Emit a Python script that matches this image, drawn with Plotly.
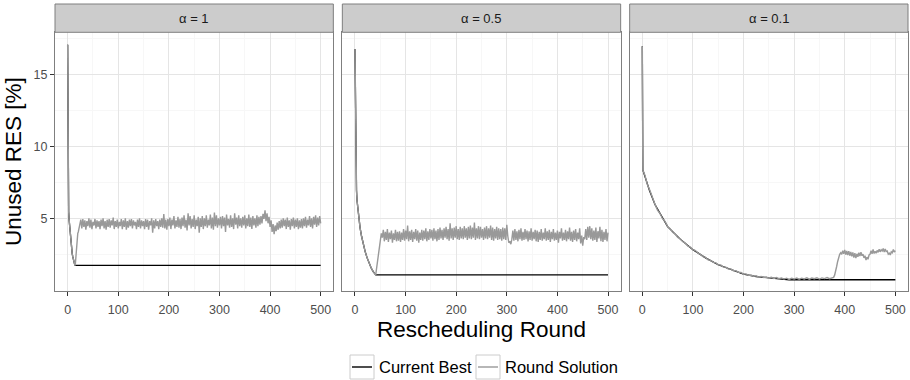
import plotly.graph_objects as go

# ---------------- data ----------------
PANEL_LABELS = ["α = 1", "α = 0.5", "α = 0.1"]
SERIES_NAMES = ["Current Best", "Round Solution"]
X_TICKS = [0, 100, 200, 300, 400, 500]
Y_TICKS = [5, 10, 15]
X_TITLE = "Rescheduling Round"
Y_TITLE = "Unused RES [%]"

# Panel 1 (alpha = 1)
P1_RS_HEAD_ROUNDS = list(range(0, 24))
P1_RS_HEAD = [17.1, 6.2, 5.5, 4.9, 4.4, 3.9, 3.5, 3.15, 2.85, 2.6, 2.4, 2.2,
              2.05, 1.92, 1.83, 1.78, 2.4, 3.0, 3.5, 3.8, 4.0, 4.1, 4.3, 4.45]
P1_RS_TAIL_START = 24  # every 2 rounds
P1_RS_TAIL = [
    4.60, 4.95, 4.35, 5.00, 4.45, 4.90, 4.25, 4.85, 4.50, 5.05, 4.40, 4.95, 4.30, 4.80, 4.55, 5.00, 4.35, 4.90, 4.45, 4.85,
    4.30, 4.95, 4.50, 5.05, 4.35, 4.85, 4.25, 4.95, 4.45, 5.00, 4.40, 4.90, 4.55, 5.10, 4.30, 4.85, 4.45, 4.95, 4.35, 4.80,
    4.50, 5.00, 4.30, 4.90, 4.45, 5.05, 4.25, 4.85, 4.40, 4.95, 4.50, 5.00, 4.35, 4.90, 4.55, 4.80, 4.30, 4.95, 4.45, 5.05,
    4.35, 4.90, 4.50, 4.85, 4.30, 5.00, 4.45, 4.95, 4.25, 4.85, 4.55, 5.05, 4.05, 4.90, 4.35, 5.00, 4.50, 4.85, 4.30, 4.95,
    4.45, 5.05, 4.40, 5.35, 4.35, 4.95, 4.25, 5.00, 4.50, 5.10, 4.30, 4.95, 4.55, 5.20, 4.35, 4.90, 4.45, 5.15, 4.40, 5.00,
    4.30, 5.10, 4.50, 5.25, 4.40, 4.95, 4.20, 5.40, 4.55, 5.20, 4.35, 5.00, 4.45, 5.25, 4.30, 4.95, 4.50, 5.15, 4.05, 5.05,
    4.45, 5.20, 4.30, 5.05, 4.50, 5.25, 4.40, 4.95, 4.55, 5.30, 4.35, 5.10, 4.25, 5.45, 4.50, 5.25, 4.40, 5.05, 4.55, 5.15,
    4.35, 5.20, 4.50, 5.10, 4.10, 5.30, 4.55, 5.00, 4.40, 5.25, 4.45, 5.05, 4.30, 5.40, 4.60, 5.10, 4.35, 5.25, 4.50, 5.05,
    4.40, 5.15, 4.55, 5.25, 4.35, 5.05, 4.50, 5.30, 4.45, 5.10, 4.30, 5.20, 4.55, 5.05, 4.40, 5.25, 4.50, 5.15, 4.60, 5.20,
    4.70, 5.35, 5.00, 5.60, 4.85, 5.40, 4.70, 5.15, 4.45, 4.90, 4.10, 4.65, 3.95, 4.55, 4.15, 4.75, 4.25, 4.85, 4.35, 4.95,
    4.40, 5.05, 4.50, 4.95, 4.30, 5.10, 4.45, 4.90, 4.25, 5.00, 4.50, 5.10, 4.35, 4.95, 4.45, 5.05, 4.30, 4.90, 4.40, 5.00,
    4.35, 5.05, 4.50, 5.15, 4.40, 4.95, 4.55, 5.20, 4.45, 5.05, 4.35, 5.15, 4.60, 5.25, 4.45, 5.10, 4.55, 5.20, 4.70,
]
P1_CB_ROUNDS = list(range(0, 16)) + [500]
P1_CB = [17.1, 6.2, 5.5, 4.9, 4.4, 3.9, 3.5, 3.15, 2.85, 2.6, 2.4, 2.2,
         2.05, 1.92, 1.83, 1.78, 1.78]

# Panel 2 (alpha = 0.5)
P2_RS_HEAD_ROUNDS = [0, 1, 2, 3, 4, 6, 8, 10, 13, 16, 20, 24, 28, 32, 36, 39, 41,
                     42, 44, 46, 48, 50, 52]
P2_RS_HEAD = [16.8, 10.5, 8.2, 7.0, 6.3, 5.5, 4.9, 4.4, 3.8, 3.3, 2.75, 2.3, 1.9,
              1.6, 1.35, 1.2, 1.12, 1.4, 1.9, 2.5, 3.0, 3.5, 4.0]
P2_RS_TAIL_START = 54  # every 2 rounds
P2_RS_TAIL = [
    3.70, 4.25, 3.45, 4.10, 3.55, 4.30, 3.40, 4.05, 3.60, 4.20, 3.35, 4.00, 3.55, 4.25, 3.45, 4.10, 3.50, 4.15, 3.40, 4.05,
    3.55, 4.30, 3.50, 4.20, 3.60, 4.55, 3.45, 4.15, 3.55, 4.25, 3.40, 4.10, 3.60, 4.30, 3.50, 4.20, 3.35, 4.05, 3.55, 4.25,
    3.50, 4.20, 3.60, 4.35, 3.45, 4.15, 3.55, 4.30, 3.65, 4.25, 3.50, 4.35, 3.60, 4.20, 3.45, 4.30, 3.55, 4.40, 3.65, 4.25,
    3.55, 4.35, 3.70, 4.45, 3.60, 4.30, 3.50, 4.70, 3.65, 4.35, 3.55, 4.40, 3.70, 4.50, 3.60, 4.30, 3.55, 4.45, 3.65, 4.35,
    3.60, 4.50, 3.70, 4.35, 3.55, 4.45, 3.65, 4.55, 3.60, 4.40, 3.70, 4.75, 3.55, 4.35, 3.65, 4.50, 3.60, 4.45, 3.70, 4.30,
    3.55, 4.40, 3.65, 4.50, 3.60, 4.35, 3.70, 4.55, 3.55, 4.40, 3.50, 4.30, 3.65, 4.45, 3.55, 4.35, 3.60, 4.30, 3.50, 4.40,
    3.60, 4.35, 3.55, 4.60, 3.80, 3.35, 3.45, 3.25, 3.60, 4.20, 3.50, 4.30, 3.55, 4.15, 3.45, 4.25, 3.60, 4.35, 3.50, 4.10,
    3.55, 4.30, 3.60, 4.20, 3.45, 4.15, 3.55, 4.35, 3.50, 4.10, 3.60, 4.25, 3.45, 4.20, 3.40, 4.10, 3.55, 4.30, 3.50, 4.05,
    3.60, 4.35, 3.50, 4.15, 3.55, 4.25, 3.40, 4.10, 3.60, 4.30, 3.50, 4.05, 3.55, 4.20, 3.35, 4.10, 3.65, 4.35, 3.50, 4.05,
    3.55, 4.25, 3.45, 4.15, 3.60, 4.40, 3.50, 4.10, 3.40, 4.20, 3.55, 4.30, 3.45, 4.05, 3.60, 4.35, 3.30, 3.85, 3.15, 3.75,
    3.60, 4.30, 3.55, 4.45, 3.70, 4.50, 3.60, 4.35, 3.50, 4.20, 3.55, 4.40, 3.40, 4.15, 3.65, 4.45, 3.45, 4.25, 3.40, 4.10,
    3.55, 4.30, 3.45, 4.05,
]
P2_CB_ROUNDS = [0, 1, 2, 3, 4, 6, 8, 10, 13, 16, 20, 24, 28, 32, 36, 39, 41, 500]
P2_CB = [16.8, 10.5, 8.2, 7.0, 6.3, 5.5, 4.9, 4.4, 3.8, 3.3, 2.75, 2.3, 1.9,
         1.6, 1.35, 1.2, 1.12, 1.12]

# Panel 3 (alpha = 0.1)
P3_RS_HEAD_ROUNDS = [0, 1]
P3_RS_HEAD = [17.0, 8.4]
P3_RS_DECAY_START = 5  # every 5 rounds
P3_RS_DECAY = [
    8.05, 7.40, 6.98, 6.42, 6.03, 5.62, 5.38, 5.02, 4.83, 4.47,
    4.33, 4.07, 3.95, 3.72, 3.63, 3.42, 3.33, 3.12, 3.05, 2.87,
    2.81, 2.62, 2.55, 2.39, 2.33, 2.17, 2.13, 1.99, 1.96, 1.82,
    1.81, 1.67, 1.66, 1.53, 1.53, 1.41, 1.41, 1.29, 1.29, 1.17,
    1.19, 1.09, 1.11, 1.02, 1.06, 0.97, 1.01, 0.93, 0.97, 0.90,
    0.95, 0.87, 0.93, 0.85, 0.91, 0.83, 0.89, 0.80, 0.88, 0.83,
    0.90, 0.82, 0.89, 0.84, 0.91, 0.82, 0.90, 0.85, 0.92, 0.83,
    0.91, 0.86, 0.93, 0.85, 0.92,
]
P3_RS_RISE_ROUNDS = [376, 378, 380, 382, 384, 386, 388, 390, 392]
P3_RS_RISE = [0.9, 0.95, 1.1, 1.35, 1.7, 2.05, 2.35, 2.55, 2.65]
P3_RS_TAIL_START = 394  # every 2 rounds
P3_RS_TAIL = [
    2.55, 2.80, 2.58, 2.85, 2.52, 2.78, 2.50, 2.76, 2.45, 2.72, 2.40, 2.68, 2.32, 2.62, 2.28, 2.58, 2.38, 2.66, 2.42, 2.70,
    2.45, 2.55, 2.30, 2.45, 2.15, 2.35, 2.20, 2.50, 2.55, 2.80, 2.58, 2.88, 2.60, 2.75, 2.62, 2.82, 2.68, 2.90, 2.72, 2.86,
    2.78, 2.95, 2.70, 2.92, 2.74, 2.78, 2.55, 2.62, 2.50, 2.72, 2.66, 2.88, 2.70, 2.80,
]
P3_CB_ROUNDS = [0, 1, 14, 25, 50, 75, 100, 125, 150, 175, 200, 225, 250, 275, 290, 500]
P3_CB = [17.0, 8.4, 7.0, 6.0, 4.47, 3.6, 2.87, 2.3, 1.82, 1.48, 1.17, 1.0, 0.9, 0.82, 0.78, 0.78]

# ---------------- assemble ----------------
def stepped(start, step, vals):
    return [start + step * i for i in range(len(vals))]

rs_x = [
    P1_RS_HEAD_ROUNDS + stepped(P1_RS_TAIL_START, 2, P1_RS_TAIL),
    P2_RS_HEAD_ROUNDS + stepped(P2_RS_TAIL_START, 2, P2_RS_TAIL),
    P3_RS_HEAD_ROUNDS + stepped(P3_RS_DECAY_START, 5, P3_RS_DECAY)
    + P3_RS_RISE_ROUNDS + stepped(P3_RS_TAIL_START, 2, P3_RS_TAIL),
]
rs_y = [
    P1_RS_HEAD + P1_RS_TAIL,
    P2_RS_HEAD + P2_RS_TAIL,
    P3_RS_HEAD + P3_RS_DECAY + P3_RS_RISE + P3_RS_TAIL,
]
cb_x = [P1_CB_ROUNDS, P2_CB_ROUNDS, P3_CB_ROUNDS]
cb_y = [P1_CB, P2_CB, P3_CB]

# ---------------- layout ----------------
W, H = 910, 380
ML, MR, MT, MB = 55, 2, 4, 89
PW = W - ML - MR
PH = H - MT - MB
GAP = 9
STRIP = 28.3
panel_w = (PW - 2 * GAP) / 3
x_domains = [[(i * (panel_w + GAP)) / PW, (i * (panel_w + GAP) + panel_w) / PW] for i in range(3)]
y_top = (PH - STRIP) / PH


def px_x(px):
    return (px - ML) / PW


def px_y(py):
    return (H - MB - py) / PH


FONT = "Liberation Sans, Arial, Helvetica, sans-serif"
BORDER = "#7f7f7f"
GRID_MAJOR = "#e5e5e5"
GRID_MINOR = "#f7f7f7"
CB_COLOR = "#000000"
RS_COLOR = "#999999"
COLORS = [CB_COLOR, RS_COLOR]

fig = go.Figure()
for i in range(3):
    xa = "x" if i == 0 else f"x{i+1}"
    ya = "y" if i == 0 else f"y{i+1}"
    fig.add_trace(go.Scatter(x=cb_x[i], y=cb_y[i], mode="lines", name=SERIES_NAMES[0],
                             line=dict(color=CB_COLOR, width=1.3), xaxis=xa, yaxis=ya,
                             legendgroup="cb", showlegend=False))
    fig.add_trace(go.Scatter(x=rs_x[i], y=rs_y[i], mode="lines", name=SERIES_NAMES[1],
                             line=dict(color=RS_COLOR, width=1.4), xaxis=xa, yaxis=ya,
                             legendgroup="rs", showlegend=False))

axis_common = dict(showline=True, mirror=True, linecolor=BORDER, linewidth=1,
                   ticks="outside", ticklen=4, tickcolor="#333333", tickwidth=1,
                   showgrid=True, gridcolor=GRID_MAJOR, gridwidth=1, zeroline=False,
                   tickfont=dict(family=FONT, size=12.5, color="#4d4d4d"))

layout = dict(width=W, height=H, margin=dict(l=ML, r=MR, t=MT, b=MB),
              paper_bgcolor="white", plot_bgcolor="white",
              font=dict(family=FONT, color="#000000"),
              showlegend=False, shapes=[], annotations=[])

for i in range(3):
    xk = "xaxis" if i == 0 else f"xaxis{i+1}"
    yk = "yaxis" if i == 0 else f"yaxis{i+1}"
    anchor_y = "y" if i == 0 else f"y{i+1}"
    anchor_x = "x" if i == 0 else f"x{i+1}"
    xa = dict(axis_common, domain=x_domains[i], anchor=anchor_y, range=[-25, 525],
              tickmode="array", tickvals=X_TICKS, ticklabelstandoff=3,
              minor=dict(dtick=50, tick0=0, showgrid=True, gridcolor=GRID_MINOR, ticks=""))
    if i == 1:
        xa["title"] = dict(text=X_TITLE, font=dict(family=FONT, size=22.5, color="#000000"), standoff=1)
    ya = dict(axis_common, domain=[0, y_top], anchor=anchor_x, range=[0.0, 17.96],
              tickmode="array", tickvals=Y_TICKS,
              minor=dict(dtick=2.5, tick0=0, showgrid=True, gridcolor=GRID_MINOR, ticks=""))
    if i > 0:
        ya["matches"] = "y"
        ya["showticklabels"] = False
        ya["ticks"] = ""
    else:
        ya["title"] = dict(text=Y_TITLE, font=dict(family=FONT, size=22.5, color="#000000"), standoff=5)
    layout[xk] = xa
    layout[yk] = ya
    layout["shapes"].append(dict(type="rect", xref="paper", yref="paper",
                                 x0=x_domains[i][0], x1=x_domains[i][1], y0=y_top, y1=1,
                                 fillcolor="#cccccc", line=dict(color=BORDER, width=1), layer="above"))
    layout["annotations"].append(dict(text=PANEL_LABELS[i], xref="paper", yref="paper",
                                      x=(x_domains[i][0] + x_domains[i][1]) / 2, y=(y_top + 1) / 2,
                                      showarrow=False, xanchor="center", yanchor="middle",
                                      font=dict(family=FONT, size=13, color="#1a1a1a")))

# legend (ggplot-style keys drawn below the panels)
LEG_Y = 367
LEG_KEY = 24
LEG_KEYS_X = [350, 476]
for k in range(2):
    kx = LEG_KEYS_X[k]
    layout["shapes"].append(dict(type="rect", xref="paper", yref="paper",
                                 x0=px_x(kx), x1=px_x(kx + LEG_KEY),
                                 y0=px_y(LEG_Y - LEG_KEY / 2), y1=px_y(LEG_Y + LEG_KEY / 2),
                                 fillcolor="white", line=dict(color="#cccccc", width=1)))
    layout["shapes"].append(dict(type="line", xref="paper", yref="paper",
                                 x0=px_x(kx + 2), x1=px_x(kx + LEG_KEY - 2),
                                 y0=px_y(LEG_Y), y1=px_y(LEG_Y),
                                 line=dict(color=COLORS[k], width=1.4)))
    layout["annotations"].append(dict(text=SERIES_NAMES[k], xref="paper", yref="paper",
                                      x=px_x(kx + LEG_KEY + 3), y=px_y(LEG_Y),
                                      showarrow=False, xanchor="left", yanchor="middle",
                                      font=dict(family=FONT, size=16.5, color="#000000")))

fig.update_layout(**layout)
fig.write_html("out.html")
